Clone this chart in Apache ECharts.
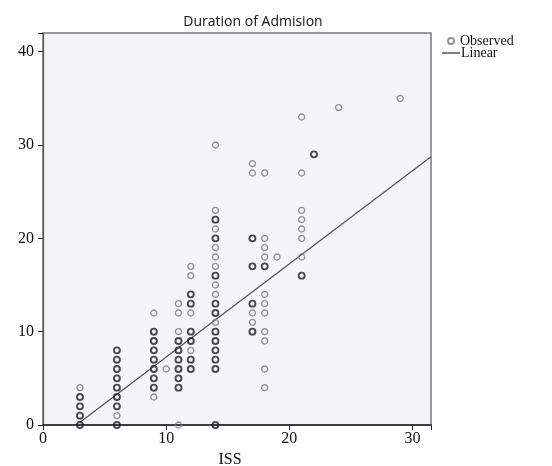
<!DOCTYPE html>
<html><head><meta charset="utf-8">
<script src="https://cdn.jsdelivr.net/npm/echarts@6/dist/echarts.min.js"></script>
<style>html,body{margin:0;padding:0;background:#fff}#c{width:552px;height:466px}</style>
</head><body><div id="c"></div>
<script>
// Observed points (ISS, Duration of Admision); bold = overlapping cases drawn darker
const iss = [
 3,3,3,3,3,
 6,6,6,6,6,6,6,6,6,
 9,9,9,9,9,9,9,9,9,
 10,
 11,11,11,11,11,11,11,11,11,11,
 12,12,12,12,12,12,12,12,12,12,
 14,14,14,14,14,14,14,14,14,14,14,14,14,14,14,14,14,14,14,14,
 17,17,17,17,17,17,17,17,
 18,18,18,18,18,18,18,18,18,18,18,18,
 19,
 21,21,21,21,21,21,21,21,
 22,24,29
];
const duration = [
 0,1,2,3,4,
 0,1,2,3,4,5,6,7,8,
 3,4,5,6,7,8,9,10,12,
 6,
 0,4,5,6,7,8,9,10,12,13,
 6,7,8,9,10,12,13,14,16,17,
 0,6,7,8,9,10,11,12,13,14,15,16,17,18,19,20,21,22,23,30,
 10,11,12,13,17,20,27,28,
 4,6,9,10,12,13,14,17,18,19,20,27,
 18,
 16,18,20,21,22,23,27,33,
 29,34,35
];
const bold = [
 1,1,1,1,0,
 1,0,1,1,1,1,1,1,1,
 0,1,1,1,1,1,1,1,0,
 0,
 0,1,1,1,1,1,1,0,0,0,
 1,1,0,1,1,0,1,1,0,0,
 1,1,1,1,1,1,0,1,1,0,0,1,0,0,0,1,0,1,0,0,
 1,0,0,1,1,1,0,0,
 0,0,0,0,0,0,0,1,0,0,0,0,
 0,
 1,0,0,0,0,0,0,0,
 1,0,0
];
// Linear fit line, end points
const lineX = [3, 31.5];
const lineY = [0.3, 28.75];
const xTicks = [0, 10, 20, 30];
const yTicks = [0, 10, 20, 30, 40];

const scatterData = iss.map((x, i) => ({
  value: [x, duration[i]],
  itemStyle: bold[i]
    ? {color: 'rgba(0,0,0,0)', borderColor: '#1e1e1e', borderWidth: 1.9}
    : {color: 'rgba(0,0,0,0)', borderColor: '#787878', borderWidth: 1.4}
}));
const lineData = lineX.map((x, i) => [x, lineY[i]]);

const chart = echarts.init(document.getElementById('c'), null, {renderer: 'canvas'});
const serif = '"Liberation Serif", "DejaVu Serif", serif';
const legendText = {fontFamily: serif, fontSize: 14, color: '#111', padding: [0,0,0,-4]};
chart.setOption({
  animation: false,
  backgroundColor: '#ffffff',
  title: {
    text: 'Duration of Admision',
    left: 248, top: 10, textAlign: 'center',
    textStyle: {fontFamily: '"Open Sans", Lato, sans-serif', fontSize: 14, fontWeight: 'normal', color: '#111'}
  },
  legend: [
    {
      orient: 'vertical', left: 447, top: 34, padding: 0,
      itemWidth: 16, itemHeight: 6,
      textStyle: legendText,
      data: [{name: 'Observed', icon: 'emptyCircle', itemStyle: {color: '#787878', borderColor: '#787878', borderWidth: 1.3}}]
    },
    {
      orient: 'vertical', left: 442, top: 46, padding: 0,
      itemWidth: 18, itemHeight: 1.4,
      textStyle: legendText,
      data: [{name: 'Linear', icon: 'rect', itemStyle: {color: '#444'}}]
    }
  ],
  grid: {left: 43, right: 121, top: 33, bottom: 41, outerBoundsMode: 'none', containLabel: false,
    show: true, backgroundColor: '#f5f4f8', borderColor: '#7a7a7a', borderWidth: 1.5},
  xAxis: {
    type: 'value', min: 0, max: 31.5, interval: 10,
    name: 'ISS', nameLocation: 'middle', nameGap: 24,
    nameTextStyle: {fontFamily: serif, fontSize: 16, color: '#111', padding: [0, 14, 0, 0]},
    axisLine: {show: true, onZero: false, lineStyle: {color: '#222', width: 1.5}},
    axisTick: {show: true, length: 5, lineStyle: {color: '#222'}},
    axisLabel: {fontFamily: serif, fontSize: 16, color: '#111', margin: 6,
      formatter: v => xTicks.includes(v) ? String(v) : ''},
    splitLine: {show: false}
  },
  yAxis: {
    type: 'value', min: 0, max: 42, interval: 10,
    axisLine: {show: true, onZero: false, lineStyle: {color: '#555', width: 1.2}},
    axisTick: {show: true, length: 5, lineStyle: {color: '#222'}},
    axisLabel: {fontFamily: serif, fontSize: 16, color: '#111', margin: 9,
      formatter: v => yTicks.includes(v) ? String(v) : ''},
    splitLine: {show: false}
  },
  series: [
    {name: 'Observed', type: 'scatter', symbol: 'circle', symbolSize: 6, data: scatterData, z: 3},
    {name: 'Linear', type: 'line', data: lineData, symbol: 'none', clip: true,
     lineStyle: {color: '#555', width: 1.3}, itemStyle: {color: '#555'}, z: 2}
  ]
});
</script></body></html>
